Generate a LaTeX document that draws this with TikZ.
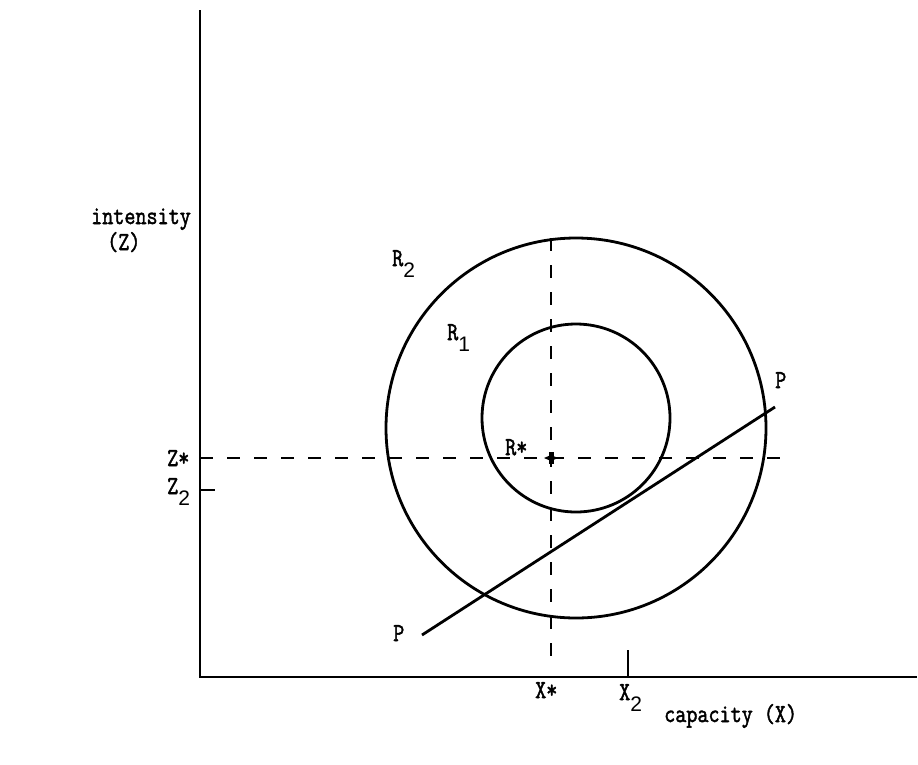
\documentclass[tikz,border=0pt]{standalone}
\usepackage{fontspec}
\setmonofont[FakeBold=2]{Latin Modern Mono}
\newfontfamily\subfont{Liberation Sans}
\usetikzlibrary{positioning}
\newcommand\tw[1]{\scalebox{1}[1.2]{#1}}
\newcommand\lowsub[1]{\raisebox{-11pt}{\subfont\fontsize{21}{21}\selectfont #1}}

\begin{document}
\begin{tikzpicture}[x=1pt,y=-1pt,font=\ttfamily\fontsize{21.5}{23}\selectfont,
    axis/.style={line width=2.5pt},
    curve/.style={line width=2.8pt},
    guide/.style={line width=1.8pt,dash pattern=on 13pt off 14pt},
    tick/.style={line width=1.4pt},
    lbl/.style={anchor=base west,inner sep=0pt}]
      \useasboundingbox (0,0) rectangle (918,764);
      % axes
      \coordinate (O) at (200,677);
      \coordinate (ytop) at (200,10);
      \coordinate (xend) at (917,677);
      \draw[axis] (ytop) -- (O) -- (xend);
      % circles
      \coordinate (c2) at (576,428);
      \coordinate (c1) at (576,418);
      \draw[curve] (c2) circle[radius=190];
      \draw[curve] (c1) circle[radius=94];
      % optimum and guides
      \coordinate (Rs) at (551,458);
      \coordinate (vtop) at (551,238);
      \coordinate (vbot) at (551,665);
      \coordinate (hend) at (790,458);
      \draw[guide] (vtop) -- (vbot);
      \draw[guide] (200,458) -- (hend);
      \fill (Rs) ++(-7,0) -- ++(7,-3) -- ++(7,3) -- ++(-7,3) -- cycle;
      \fill (Rs) ++(-2.5,-6) rectangle ++(5,12);
      % ticks
      \coordinate (z2) at (200,490);
      \coordinate (x2) at (628,677);
      \draw[tick] (z2) -- ++(15,0);
      \draw[tick] (x2) -- ++(0,-27);
      % budget line
      \coordinate (p1) at (422,635);
      \coordinate (p2) at (775,407);
      \draw[curve] (p1) -- (p2);
      % labels
      \node[lbl] (lint) at (91,224) {\tw{intensity}};
      \node[lbl] (lZ) at (107,250) {\tw{(Z)}};
      \node[lbl] (lzs) at (167,466) {\tw{Z*}};
      \node[lbl] (lz2) at (167,494) {\tw{Z}\lowsub{2}};
      \node[lbl] (lr2) at (392,266) {\tw{R}\lowsub{2}};
      \node[lbl] (lr1) at (447,340) {\tw{R}\lowsub{1}};
      \node[lbl] (lrs) at (505,455) {\tw{R*}};
      \node[lbl] (lp1) at (393,641) {\tw{P}};
      \node[lbl] (lp2) at (775,388) {\tw{P}};
      \node[lbl] (lxs) at (535,698) {\tw{X*}};
      \node[lbl] (lx2) at (619,700) {\tw{X}\lowsub{2}};
      \node[lbl] (lcap) at (664,722) {\tw{capacity (X)}};
    \end{tikzpicture}
\end{document}
